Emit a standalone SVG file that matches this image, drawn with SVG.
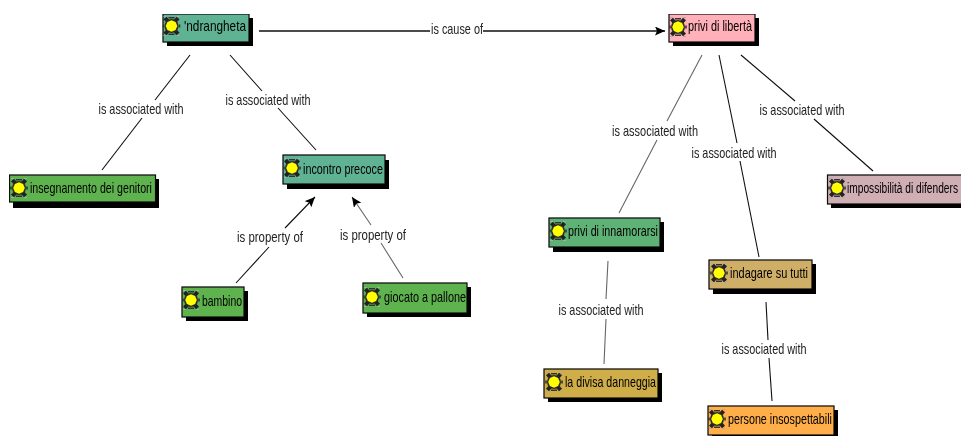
<svg xmlns="http://www.w3.org/2000/svg" width="961" height="436" viewBox="0 0 961 436">
<style>
text{font-family:"Liberation Sans",Arial,sans-serif;fill:#000;font-size:15px}
.lb{text-anchor:middle;fill:#222}
.box{stroke:#0a0a0a;stroke-width:1.2}
.sh{fill:#000}
.c{fill:none;stroke:#111;stroke-width:1.1}
.g{stroke:#666}
.k{stroke-width:1.7}
</style>
<defs>
<filter id="soft" x="0" y="0" width="100%" height="100%"><feGaussianBlur stdDeviation="0.3"/></filter>
<marker id="ah" markerWidth="12" markerHeight="10" refX="10" refY="4.500" orient="auto" markerUnits="userSpaceOnUse"><path d="M0 0L10 4.500L0 9L2 4.500z" fill="#000"/></marker>
<g id="ic">
<path d="M-6.500-8L-3-4M6.500-8L3-4M-6.500 8L-3 4M6.500 8L3 4" fill="none" stroke="#222" stroke-width="4"/>
<path d="M-8-1.500V1.500M8-1.500V1.500M-3-8.300H3M-3 8.300H3" fill="none" stroke="#333" stroke-width="1.600"/>
<path d="M-8-9.500H-5M5-9.500H8M-8 9.500H-5M5 9.500H8" fill="none" stroke="#aaa" stroke-width="1.200"/>
<circle r="7" fill="#2a2a2a"/>
<path d="M0-5.800L4.100-4.100L5.800 0L4.100 4.100L0 5.800L-4.100 4.100L-5.800 0L-4.100-4.100z" fill="#ff0"/>
</g>
</defs>
<g filter="url(#soft)">
<g id="connectors">
<path class="c k" d="M259 31H430M483 31H665" marker-end="url(#ah)"/>
<path class="c" d="M190 55L155 100M142 118L102 170"/>
<path class="c" d="M230 55L262 91M278 108L316 150"/>
<path class="c" d="M236 283L269 247M285 228L315 197" marker-end="url(#ah)"/>
<path class="c g" d="M403 278L381 243M371 225L352 197" marker-end="url(#ah)"/>
<path class="c g" d="M702 55L667 121M657 140L619 213"/>
<path class="c" d="M719 55L737 143M740 161L759 257"/>
<path class="c" d="M741 55L795 101M814 119L873 171"/>
<path class="c g" d="M608 261L606 299M606 319L604 364"/>
<path class="c" d="M766 302L768 340M769 358L772 401"/>
</g>
<g id="edge-labels">
<text class="lb" x="141" y="114" textLength="85" lengthAdjust="spacingAndGlyphs">is associated with</text>
<text class="lb" x="268" y="105" textLength="85" lengthAdjust="spacingAndGlyphs">is associated with</text>
<text class="lb" x="457" y="34" textLength="52" lengthAdjust="spacingAndGlyphs">is cause of</text>
<text class="lb" x="270" y="242" textLength="66" lengthAdjust="spacingAndGlyphs">is property of</text>
<text class="lb" x="373" y="240" textLength="66" lengthAdjust="spacingAndGlyphs">is property of</text>
<text class="lb" x="655" y="136" textLength="86" lengthAdjust="spacingAndGlyphs">is associated with</text>
<text class="lb" x="734" y="158" textLength="85" lengthAdjust="spacingAndGlyphs">is associated with</text>
<text class="lb" x="802" y="115" textLength="85" lengthAdjust="spacingAndGlyphs">is associated with</text>
<text class="lb" x="601" y="315" textLength="85" lengthAdjust="spacingAndGlyphs">is associated with</text>
<text class="lb" x="764" y="354" textLength="85" lengthAdjust="spacingAndGlyphs">is associated with</text>
</g>
<g id="n-ndrangheta"><rect class="sh" x="167" y="18" width="86" height="28"/><rect class="box" x="163" y="14" width="86" height="28" fill="#5fb294"/><use href="#ic" x="171.500" y="26"/><text x="184" y="31" textLength="62" lengthAdjust="spacingAndGlyphs">'ndrangheta</text></g>
<g id="n-liberta"><rect class="sh" x="673" y="18" width="86" height="28"/><rect class="box" x="669" y="14" width="86" height="28" fill="#ffb0b8"/><use href="#ic" x="678" y="27"/><text x="688" y="31" textLength="64" lengthAdjust="spacingAndGlyphs">privi di libertà</text></g>
<g id="n-insegnamento"><rect class="sh" x="13" y="179" width="146" height="29"/><rect class="box" x="9.500" y="175" width="146" height="27" fill="#5fb34f"/><use href="#ic" x="19" y="188"/><text x="30" y="193" textLength="122" lengthAdjust="spacingAndGlyphs">insegnamento dei genitori</text></g>
<g id="n-incontro"><rect class="sh" x="287" y="160" width="102" height="29"/><rect class="box" x="283" y="155" width="102" height="29" fill="#5fb294"/><use href="#ic" x="292" y="168"/><text x="303" y="174" textLength="80" lengthAdjust="spacingAndGlyphs">incontro precoce</text></g>
<g id="n-bambino"><rect class="sh" x="186" y="291" width="62" height="30"/><rect class="box" x="182" y="287" width="62" height="30" fill="#5fb34f"/><use href="#ic" x="191" y="300"/><text x="202" y="306" textLength="40" lengthAdjust="spacingAndGlyphs">bambino</text></g>
<g id="n-giocato"><rect class="sh" x="367" y="287" width="104" height="30"/><rect class="box" x="363" y="283" width="104" height="30" fill="#5fb34f"/><use href="#ic" x="372" y="297"/><text x="384" y="302" textLength="82" lengthAdjust="spacingAndGlyphs">giocato a pallone</text></g>
<g id="n-innamorarsi"><rect class="sh" x="553" y="222" width="111" height="30"/><rect class="box" x="549" y="218" width="111" height="29" fill="#5fb274"/><use href="#ic" x="558" y="231"/><text x="568" y="236" textLength="90" lengthAdjust="spacingAndGlyphs">privi di innamorarsi</text></g>
<g id="n-indagare"><rect class="sh" x="713" y="264" width="103" height="30"/><rect class="box" x="709" y="260" width="103" height="29" fill="#cfae68"/><use href="#ic" x="719" y="273"/><text x="730" y="278" textLength="78" lengthAdjust="spacingAndGlyphs">indagare su tutti</text></g>
<g id="n-divisa"><rect class="sh" x="548" y="373" width="114" height="29"/><rect class="box" x="544" y="369" width="114" height="29" fill="#cfae48"/><use href="#ic" x="554" y="382"/><text x="565" y="387" textLength="91" lengthAdjust="spacingAndGlyphs">la divisa danneggia</text></g>
<g id="n-persone"><rect class="sh" x="712" y="410" width="126" height="26"/><rect class="box" x="708" y="406" width="126" height="29" fill="#ffae48"/><use href="#ic" x="717" y="419"/><text x="728" y="424" textLength="104" lengthAdjust="spacingAndGlyphs">persone insospettabili</text></g>
<g id="n-impossibilita"><rect class="sh" x="831" y="179" width="134" height="29"/><rect class="box" x="827.500" y="175" width="140" height="29" fill="#cfaeb4"/><use href="#ic" x="837" y="188"/><text transform="translate(847 193) scale(.68 1)">impossibilità di difenders</text></g>
</g>
</svg>
